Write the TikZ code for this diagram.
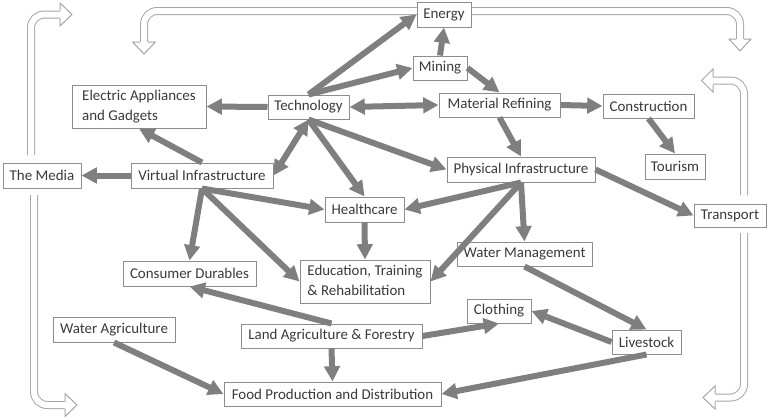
\documentclass[tikz,border=0pt]{standalone}
\usepackage{fontspec}
\setmainfont{Carlito}
\usetikzlibrary{arrows.meta}
\definecolor{boxgray}{HTML}{8C8C8C}
\definecolor{textgray}{HTML}{3A3A3A}
\definecolor{arrgray}{HTML}{7F7F7F}
\definecolor{hgray}{HTML}{A6A6A6}
\tikzset{
  box/.style={draw=boxgray, fill=white, text=textgray, line width=0.75pt, inner sep=0pt,
    font=\fontsize{11.2}{15}\selectfont},
  conn/.style={draw=arrgray, line width=4.5pt, -{Triangle[length=11.5pt,width=11.5pt]}},
  bconn/.style={draw=arrgray, line width=4.5pt, {Triangle[length=11.5pt,width=11.5pt]}-{Triangle[length=11.5pt,width=11.5pt]}},
  hshaft/.style={draw=hgray, line width=0.75pt, double=white, double distance=4.5pt, rounded corners=10pt},
  hhead/.style={draw=hgray, fill=white, line width=0.75pt, line join=miter},
}
\newcommand\bx[6]{\node[box, minimum width=#4*0.75pt, minimum height=#5*0.75pt] (#1) at (#2,#3) {#6};}
\begin{document}
\begin{tikzpicture}[x=0.75pt, y=-0.75pt]
\useasboundingbox (0,0) rectangle (768,418);

% hollow arrows
\coordinate (h1s) at (31,155);
\coordinate (h1e) at (60,14.5);
\draw[hshaft] (h1s) -- (31,14.5) -- (h1e);
\filldraw[hhead] (60,10.5) -- (60,3) -- (72,14.5) -- (60,26) -- (60,18.5);

\coordinate (h2s) at (144,42);
\coordinate (h2e) at (740,39);
\draw[hshaft] (h2s) -- (144,11) -- (740,11) -- (h2e);
\filldraw[hhead] (140,42) -- (132.5,42) -- (144,54) -- (155.5,42) -- (148,42);
\filldraw[hhead] (736,39) -- (729,39) -- (740,51) -- (751,39) -- (744,39);

\coordinate (h3s) at (744,195);
\coordinate (h3e) at (713,80.5);
\draw[hshaft] (h3s) -- (744,80.5) -- (h3e);
\filldraw[hhead] (713,76.5) -- (713,69) -- (701.5,80.5) -- (713,92) -- (713,84.5);

\coordinate (h4s) at (744,233);
\coordinate (h4e) at (715,397.5);
\draw[hshaft] (h4s) -- (744,397.5) -- (h4e);
\filldraw[hhead] (715,393.5) -- (715,386) -- (703,397.5) -- (715,409) -- (715,401.5);

\coordinate (h5s) at (34,195);
\coordinate (h5e) at (65,405);
\draw[hshaft] (h5s) -- (34,405) -- (h5e);
\filldraw[hhead] (65,401) -- (65,393.5) -- (77,405) -- (65,416.5) -- (65,409);

% boxes
\bx{energy}{444}{14.5}{54}{25}{Energy}
\bx{mining}{440}{68}{54}{24}{Mining}
\bx{tech}{308.5}{107}{81}{24}{Technology}
\bx{elec}{139}{106.5}{134}{43}{\begin{tabular}{@{}l@{}}Electric Appliances\\and Gadgets\end{tabular}}
\bx{matref}{499.5}{105}{121}{24}{Material Refining}
\bx{constr}{648.5}{106}{91}{24}{Construction}
\bx{tourism}{675}{166.5}{60}{25}{Tourism}
\bx{media}{42}{175.5}{78}{25}{The Media}
\bx{vi}{202}{175.5}{142}{25}{Virtual Infrastructure}
\bx{phys}{521}{169.5}{148}{25}{Physical Infrastructure}
\bx{transport}{730}{215.5}{72}{23}{Transport}
\bx{health}{364.5}{209.5}{79}{25}{Healthcare}
\bx{cd}{189.5}{273.5}{133}{25}{Consumer Durables}
\bx{edu}{365}{281.5}{130}{43}{\begin{tabular}{@{}l@{}}Education, Training\\\& Rehabilitation\end{tabular}}
\bx{wm}{524.5}{254}{135}{24}{Water Management}
\bx{cloth}{499}{311}{64}{24}{Clothing}
\bx{livestock}{646.5}{342}{69}{24}{Livestock}
\bx{wa}{114}{329.5}{122}{25}{Water Agriculture}
\bx{land}{331.5}{336}{181}{24}{Land Agriculture \& Forestry}
\bx{food}{332.5}{394}{217}{24}{Food Production and Distribution}

% connectors
\draw[conn] (tech.north) -- (energy.west);
\draw[conn] (tech.north) -- (mining.west);
\draw[conn] (tech.west) -- (elec.east);
\draw[bconn] (tech.east) -- (matref.west);
\draw[bconn] (tech.south) -- (vi.east);
\draw[conn] (tech.south) -- (phys.west);
\draw[conn] (tech.south) -- (health.north);
\draw[conn] (mining.north) -- (energy.south);
\draw[conn] (mining.east) -- (matref.north);
\draw[conn] (matref.east) -- (constr.west);
\draw[conn] (matref.south) -- (phys.north);
\draw[conn] (constr.south) -- (tourism.north);
\draw[conn] (phys.east) -- (transport.west);
\draw[conn] (phys.south) -- (health.east);
\draw[conn] (phys.south) -- (edu.east);
\draw[conn] (phys.south) -- (wm.north);
\draw[conn] (vi.west) -- (media.east);
\draw[conn] (vi.north) -- (elec.south);
\draw[conn] (vi.south) -- (health.west);
\draw[conn] (vi.south) -- (cd.north);
\draw[conn] (vi.south) -- (edu.west);
\draw[conn] (health.south) -- (edu.north);
\draw[conn] (wm.south) -- (livestock.north);
\draw[conn] (livestock.west) -- (cloth.east);
\draw[conn] (livestock.south) -- (food.east);
\draw[conn] (land.north) -- (cd.south);
\draw[conn] (land.east) -- (cloth.south);
\draw[conn] (land.south) -- (food.north);
\draw[conn] (wa.south) -- (food.west);
\end{tikzpicture}
\end{document}
